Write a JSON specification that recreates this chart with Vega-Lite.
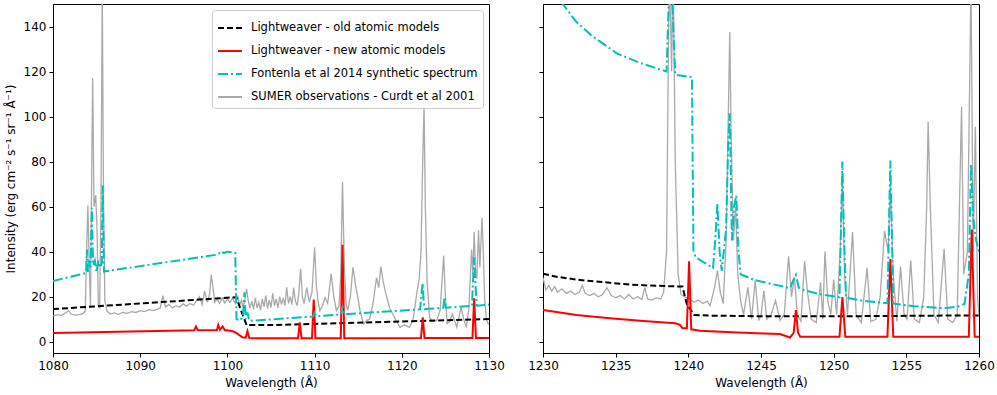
{
"$schema": "https://vega.github.io/schema/vega-lite/v6.json",
"padding": {"left": 3, "top": 3, "right": 5, "bottom": 2},
"background": "white",
"config": {
  "font": "DejaVu Sans",
  "view": {"stroke": "black", "strokeWidth": 1},
  "axis": {"domainColor": "black", "tickColor": "black", "labelColor": "black", "titleColor": "black", "labelFont": "DejaVu Sans", "titleFont": "DejaVu Sans", "labelFontSize": 12, "titleFontSize": 12, "titleFontWeight": "normal", "grid": false, "tickSize": 4, "labelPadding": 3, "titlePadding": 6, "labelFlush": false, "labelOverlap": false},
  "legend": {"labelFont": "DejaVu Sans", "labelFontSize": 11.5, "labelColor": "black"}
},
"spacing": 22,
"resolve": {"scale": {"color": "independent", "strokeDash": "independent"}},
"datasets": {
"L": [
{"s":"a","x":1080,"y":14.5},{"s":"a","x":1090,"y":17.0},{"s":"a","x":1101.0,"y":19.8},{"s":"a","x":1102.2,"y":7.4},{"s":"a","x":1105,"y":7.4},{"s":"a","x":1130,"y":10.1},
{"s":"b","x":1080,"y":3.9},{"s":"b","x":1096.2,"y":5.1},{"s":"b","x":1096.4,"y":6.7},{"s":"b","x":1096.6,"y":5.1},{"s":"b","x":1098.8,"y":5.2},{"s":"b","x":1098.95,"y":7.4},{"s":"b","x":1099.15,"y":5.3},{"s":"b","x":1099.45,"y":6.8},{"s":"b","x":1099.7,"y":5.2},{"s":"b","x":1100.5,"y":4.8},{"s":"b","x":1101.0,"y":4.0},{"s":"b","x":1101.7,"y":2.0},{"s":"b","x":1102.1,"y":1.8},{"s":"b","x":1102.3,"y":4.7},{"s":"b","x":1102.5,"y":1.7},{"s":"b","x":1103,"y":1.5},{"s":"b","x":1108.1,"y":1.6},{"s":"b","x":1108.3,"y":8.6},{"s":"b","x":1108.5,"y":1.6},{"s":"b","x":1109.7,"y":1.6},{"s":"b","x":1109.9,"y":18.7},{"s":"b","x":1110.1,"y":1.6},{"s":"b","x":1113.0,"y":1.6},{"s":"b","x":1113.2,"y":43.1},{"s":"b","x":1113.4,"y":1.6},{"s":"b","x":1122.2,"y":1.7},{"s":"b","x":1122.4,"y":10.8},{"s":"b","x":1122.6,"y":1.7},{"s":"b","x":1128.1,"y":1.7},{"s":"b","x":1128.3,"y":19.3},{"s":"b","x":1128.5,"y":1.7},{"s":"b","x":1130,"y":1.7},
{"s":"c","x":1080,"y":27.0},{"s":"c","x":1083.8,"y":30.5},{"s":"c","x":1083.9,"y":41},{"s":"c","x":1084.0,"y":31},{"s":"c","x":1084.1,"y":36},{"s":"c","x":1084.3,"y":33},{"s":"c","x":1084.45,"y":59.5},{"s":"c","x":1084.6,"y":34},{"s":"c","x":1084.8,"y":36},{"s":"c","x":1085.0,"y":31},{"s":"c","x":1085.2,"y":36},{"s":"c","x":1085.4,"y":33},{"s":"c","x":1085.6,"y":35},{"s":"c","x":1085.7,"y":69.5},{"s":"c","x":1085.85,"y":31.2},{"s":"c","x":1098.7,"y":38.6},{"s":"c","x":1099.0,"y":39.0},{"s":"c","x":1099.3,"y":40.2},{"s":"c","x":1099.6,"y":39.4},{"s":"c","x":1100.0,"y":40.0},{"s":"c","x":1100.9,"y":39.5},{"s":"c","x":1101.05,"y":10},{"s":"c","x":1101.5,"y":9.5},{"s":"c","x":1101.8,"y":12},{"s":"c","x":1101.95,"y":22},{"s":"c","x":1102.1,"y":10},{"s":"c","x":1102.3,"y":13},{"s":"c","x":1102.5,"y":9.3},{"s":"c","x":1103,"y":9.4},{"s":"c","x":1109.8,"y":11.2},{"s":"c","x":1110.0,"y":12.8},{"s":"c","x":1110.2,"y":11.3},{"s":"c","x":1113.0,"y":12.1},{"s":"c","x":1113.2,"y":15.8},{"s":"c","x":1113.4,"y":12.2},{"s":"c","x":1122.1,"y":14.4},{"s":"c","x":1122.3,"y":23},{"s":"c","x":1122.4,"y":26},{"s":"c","x":1122.5,"y":18},{"s":"c","x":1122.65,"y":14.5},{"s":"c","x":1124.75,"y":15.1},{"s":"c","x":1124.9,"y":19.8},{"s":"c","x":1125.05,"y":15.1},{"s":"c","x":1128.05,"y":15.9},{"s":"c","x":1128.2,"y":30},{"s":"c","x":1128.3,"y":37.5},{"s":"c","x":1128.45,"y":25},{"s":"c","x":1128.6,"y":16.0},{"s":"c","x":1130,"y":16.5},
{"s":"d","x":1080.0,"y":11.5},{"s":"d","x":1080.5,"y":12.0},{"s":"d","x":1081.0,"y":11.7},{"s":"d","x":1081.5,"y":13.0},{"s":"d","x":1081.8,"y":13.8},{"s":"d","x":1082.1,"y":12.2},{"s":"d","x":1082.6,"y":11.8},{"s":"d","x":1083.0,"y":12.0},{"s":"d","x":1083.4,"y":12.4},{"s":"d","x":1083.7,"y":13.5},{"s":"d","x":1083.85,"y":40},{"s":"d","x":1084.0,"y":60.5},{"s":"d","x":1084.15,"y":35},{"s":"d","x":1084.3,"y":15.5},{"s":"d","x":1084.45,"y":80},{"s":"d","x":1084.55,"y":117},{"s":"d","x":1084.7,"y":60},{"s":"d","x":1084.9,"y":65},{"s":"d","x":1085.05,"y":50},{"s":"d","x":1085.2,"y":16},{"s":"d","x":1085.35,"y":15.3},{"s":"d","x":1085.5,"y":60},{"s":"d","x":1085.65,"y":155},{"s":"d","x":1085.8,"y":60},{"s":"d","x":1085.95,"y":18},{"s":"d","x":1086.2,"y":13.5},{"s":"d","x":1086.6,"y":12.3},{"s":"d","x":1087.0,"y":12.8},{"s":"d","x":1087.5,"y":12.2},{"s":"d","x":1088.0,"y":13.0},{"s":"d","x":1088.5,"y":12.6},{"s":"d","x":1089.0,"y":13.4},{"s":"d","x":1089.5,"y":13.0},{"s":"d","x":1090.0,"y":13.8},{"s":"d","x":1090.5,"y":13.4},{"s":"d","x":1091.0,"y":14.2},{"s":"d","x":1091.5,"y":13.8},{"s":"d","x":1092.0,"y":14.5},{"s":"d","x":1092.3,"y":15.0},{"s":"d","x":1092.6,"y":20.5},{"s":"d","x":1092.9,"y":15.5},{"s":"d","x":1093.3,"y":16.5},{"s":"d","x":1093.7,"y":15.0},{"s":"d","x":1094.1,"y":16.0},{"s":"d","x":1094.5,"y":15.3},{"s":"d","x":1094.9,"y":16.8},{"s":"d","x":1095.3,"y":15.8},{"s":"d","x":1095.7,"y":17.0},{"s":"d","x":1096.1,"y":16.2},{"s":"d","x":1096.5,"y":18.5},{"s":"d","x":1096.8,"y":20.0},{"s":"d","x":1097.1,"y":16.5},{"s":"d","x":1097.4,"y":22.5},{"s":"d","x":1097.7,"y":17.5},{"s":"d","x":1097.95,"y":21},{"s":"d","x":1098.15,"y":29.7},{"s":"d","x":1098.35,"y":24},{"s":"d","x":1098.55,"y":17.5},{"s":"d","x":1098.8,"y":19.0},{"s":"d","x":1099.1,"y":17.0},{"s":"d","x":1099.4,"y":19.5},{"s":"d","x":1099.7,"y":17.2},{"s":"d","x":1100.0,"y":19.0},{"s":"d","x":1100.3,"y":17.5},{"s":"d","x":1100.6,"y":19.5},{"s":"d","x":1100.9,"y":17.0},{"s":"d","x":1101.2,"y":20.5},{"s":"d","x":1101.4,"y":16.0},{"s":"d","x":1101.6,"y":18.5},{"s":"d","x":1101.8,"y":15.5},{"s":"d","x":1102.0,"y":19},{"s":"d","x":1102.2,"y":23.5},{"s":"d","x":1102.4,"y":18},{"s":"d","x":1102.6,"y":15.0},{"s":"d","x":1102.8,"y":18.0},{"s":"d","x":1103.0,"y":14.5},{"s":"d","x":1103.2,"y":19.5},{"s":"d","x":1103.4,"y":15.0},{"s":"d","x":1103.6,"y":17.5},{"s":"d","x":1103.8,"y":14.0},{"s":"d","x":1104.0,"y":19.0},{"s":"d","x":1104.2,"y":15.5},{"s":"d","x":1104.4,"y":20.5},{"s":"d","x":1104.6,"y":14.8},{"s":"d","x":1104.8,"y":18.5},{"s":"d","x":1105.0,"y":15.2},{"s":"d","x":1105.2,"y":21.5},{"s":"d","x":1105.4,"y":16.0},{"s":"d","x":1105.6,"y":19.0},{"s":"d","x":1105.8,"y":15.0},{"s":"d","x":1106.0,"y":20.0},{"s":"d","x":1106.2,"y":16.5},{"s":"d","x":1106.4,"y":19.5},{"s":"d","x":1106.6,"y":16.0},{"s":"d","x":1106.8,"y":24.2},{"s":"d","x":1107.0,"y":17.0},{"s":"d","x":1107.2,"y":20.0},{"s":"d","x":1107.4,"y":16.5},{"s":"d","x":1107.6,"y":24.0},{"s":"d","x":1107.8,"y":18.0},{"s":"d","x":1108.0,"y":16.0},{"s":"d","x":1108.2,"y":22},{"s":"d","x":1108.4,"y":32.4},{"s":"d","x":1108.6,"y":20},{"s":"d","x":1108.8,"y":17.0},{"s":"d","x":1109.1,"y":24.0},{"s":"d","x":1109.4,"y":17.5},{"s":"d","x":1109.7,"y":22},{"s":"d","x":1110.0,"y":42},{"s":"d","x":1110.2,"y":25},{"s":"d","x":1110.4,"y":18},{"s":"d","x":1110.6,"y":13.8},{"s":"d","x":1110.9,"y":16.0},{"s":"d","x":1111.2,"y":19.5},{"s":"d","x":1111.5,"y":17},{"s":"d","x":1111.9,"y":30.2},{"s":"d","x":1112.2,"y":20},{"s":"d","x":1112.5,"y":13.8},{"s":"d","x":1112.8,"y":16},{"s":"d","x":1113.0,"y":30},{"s":"d","x":1113.2,"y":71},{"s":"d","x":1113.4,"y":35},{"s":"d","x":1113.6,"y":17},{"s":"d","x":1113.8,"y":14},{"s":"d","x":1114.1,"y":20},{"s":"d","x":1114.4,"y":33.1},{"s":"d","x":1114.7,"y":25},{"s":"d","x":1114.9,"y":21},{"s":"d","x":1115.2,"y":14},{"s":"d","x":1115.6,"y":7.9},{"s":"d","x":1116.0,"y":9.5},{"s":"d","x":1116.3,"y":10},{"s":"d","x":1116.7,"y":17},{"s":"d","x":1117.1,"y":28.5},{"s":"d","x":1117.35,"y":24},{"s":"d","x":1117.6,"y":33.4},{"s":"d","x":1117.85,"y":27},{"s":"d","x":1118.1,"y":22.5},{"s":"d","x":1118.6,"y":15},{"s":"d","x":1119.0,"y":12},{"s":"d","x":1119.4,"y":9},{"s":"d","x":1119.8,"y":6.4},{"s":"d","x":1120.3,"y":7.5},{"s":"d","x":1120.9,"y":6.4},{"s":"d","x":1121.3,"y":10},{"s":"d","x":1121.7,"y":21},{"s":"d","x":1122.0,"y":28},{"s":"d","x":1122.2,"y":40},{"s":"d","x":1122.4,"y":80},{"s":"d","x":1122.55,"y":105},{"s":"d","x":1122.7,"y":60},{"s":"d","x":1122.9,"y":27},{"s":"d","x":1123.2,"y":10.5},{"s":"d","x":1123.6,"y":9},{"s":"d","x":1124.0,"y":9.4},{"s":"d","x":1124.4,"y":14},{"s":"d","x":1124.8,"y":38.3},{"s":"d","x":1125.0,"y":20},{"s":"d","x":1125.2,"y":8},{"s":"d","x":1125.5,"y":9},{"s":"d","x":1125.8,"y":12.3},{"s":"d","x":1126.3,"y":6.5},{"s":"d","x":1126.8,"y":15.3},{"s":"d","x":1127.1,"y":10},{"s":"d","x":1127.4,"y":6.4},{"s":"d","x":1127.7,"y":15},{"s":"d","x":1128.0,"y":41},{"s":"d","x":1128.15,"y":30},{"s":"d","x":1128.3,"y":48.7},{"s":"d","x":1128.45,"y":32},{"s":"d","x":1128.6,"y":28},{"s":"d","x":1128.8,"y":49.5},{"s":"d","x":1128.95,"y":33},{"s":"d","x":1129.2,"y":55},{"s":"d","x":1129.35,"y":40},{"s":"d","x":1129.5,"y":19},{"s":"d","x":1129.7,"y":10},{"s":"d","x":1129.9,"y":8},{"s":"d","x":1130.0,"y":8}
],
"R": [
{"s":"a","x":1230,"y":30.2},{"s":"a","x":1231,"y":28.8},{"s":"a","x":1232.3,"y":27.6},{"s":"a","x":1233.5,"y":26.8},{"s":"a","x":1234.6,"y":26.2},{"s":"a","x":1236,"y":25.4},{"s":"a","x":1236.9,"y":25.1},{"s":"a","x":1238.5,"y":24.7},{"s":"a","x":1239.6,"y":24.5},{"s":"a","x":1239.9,"y":16.6},{"s":"a","x":1240.4,"y":11.9},{"s":"a","x":1241.5,"y":11.6},{"s":"a","x":1245.2,"y":11.3},{"s":"a","x":1250,"y":11.3},{"s":"a","x":1255,"y":11.5},{"s":"a","x":1260,"y":11.7},
{"s":"b","x":1230,"y":14.1},{"s":"b","x":1232.3,"y":11.9},{"s":"b","x":1234.6,"y":10.4},{"s":"b","x":1236.9,"y":9.2},{"s":"b","x":1239.1,"y":8.2},{"s":"b","x":1239.4,"y":7.6},{"s":"b","x":1239.6,"y":6.0},{"s":"b","x":1239.9,"y":6.0},{"s":"b","x":1240.05,"y":35.7},{"s":"b","x":1240.2,"y":5.5},{"s":"b","x":1240.8,"y":4.9},{"s":"b","x":1243,"y":4.2},{"s":"b","x":1245.2,"y":3.7},{"s":"b","x":1246.3,"y":3.4},{"s":"b","x":1247.0,"y":1.9},{"s":"b","x":1247.25,"y":4},{"s":"b","x":1247.4,"y":14.1},{"s":"b","x":1247.55,"y":4},{"s":"b","x":1247.7,"y":2.2},{"s":"b","x":1250.4,"y":2.2},{"s":"b","x":1250.6,"y":19.8},{"s":"b","x":1250.8,"y":2.2},{"s":"b","x":1253.7,"y":2.2},{"s":"b","x":1253.9,"y":36.7},{"s":"b","x":1254.1,"y":2.2},{"s":"b","x":1259.3,"y":2.2},{"s":"b","x":1259.5,"y":49.8},{"s":"b","x":1259.7,"y":2.2},{"s":"b","x":1260,"y":2.2},
{"s":"c","x":1230,"y":165},{"s":"c","x":1231.3,"y":150.5},{"s":"c","x":1232.3,"y":142},{"s":"c","x":1233.4,"y":135.7},{"s":"c","x":1235.1,"y":128},{"s":"c","x":1236.7,"y":123.8},{"s":"c","x":1238.5,"y":120},{"s":"c","x":1238.65,"y":150},{"s":"c","x":1238.75,"y":190},{"s":"c","x":1238.9,"y":150},{"s":"c","x":1239.1,"y":118.6},{"s":"c","x":1240.25,"y":117.5},{"s":"c","x":1240.35,"y":40.6},{"s":"c","x":1240.5,"y":37.6},{"s":"c","x":1241.0,"y":35.5},{"s":"c","x":1241.7,"y":32.8},{"s":"c","x":1241.85,"y":45},{"s":"c","x":1242.0,"y":61.4},{"s":"c","x":1242.15,"y":40},{"s":"c","x":1242.3,"y":31.5},{"s":"c","x":1242.6,"y":50},{"s":"c","x":1242.75,"y":90},{"s":"c","x":1242.85,"y":101.5},{"s":"c","x":1243.0,"y":45},{"s":"c","x":1243.15,"y":60},{"s":"c","x":1243.3,"y":65},{"s":"c","x":1243.45,"y":40},{"s":"c","x":1243.6,"y":30},{"s":"c","x":1244.5,"y":27.5},{"s":"c","x":1245.7,"y":25.7},{"s":"c","x":1247.0,"y":23.8},{"s":"c","x":1247.2,"y":27},{"s":"c","x":1247.4,"y":29.7},{"s":"c","x":1247.6,"y":24},{"s":"c","x":1248,"y":22.8},{"s":"c","x":1249,"y":21.2},{"s":"c","x":1250.4,"y":19.8},{"s":"c","x":1250.5,"y":50},{"s":"c","x":1250.6,"y":80},{"s":"c","x":1250.7,"y":50},{"s":"c","x":1250.85,"y":19.5},{"s":"c","x":1252,"y":18.2},{"s":"c","x":1253.7,"y":17.1},{"s":"c","x":1253.8,"y":50},{"s":"c","x":1253.9,"y":80.5},{"s":"c","x":1254.0,"y":50},{"s":"c","x":1254.1,"y":16.9},{"s":"c","x":1255.5,"y":15.8},{"s":"c","x":1257.6,"y":14.9},{"s":"c","x":1258.5,"y":15.5},{"s":"c","x":1259.0,"y":16.8},{"s":"c","x":1259.3,"y":30},{"s":"c","x":1259.45,"y":79},{"s":"c","x":1259.6,"y":55},{"s":"c","x":1259.8,"y":45},{"s":"c","x":1260,"y":40},
{"s":"d","x":1230.0,"y":28.5},{"s":"d","x":1230.2,"y":23.0},{"s":"d","x":1230.4,"y":25.0},{"s":"d","x":1230.6,"y":22.5},{"s":"d","x":1230.8,"y":24.5},{"s":"d","x":1231.0,"y":22.0},{"s":"d","x":1231.3,"y":23.5},{"s":"d","x":1231.6,"y":21.5},{"s":"d","x":1231.9,"y":22.5},{"s":"d","x":1232.2,"y":21.0},{"s":"d","x":1232.5,"y":22.0},{"s":"d","x":1232.7,"y":25.0},{"s":"d","x":1232.9,"y":21.5},{"s":"d","x":1233.2,"y":20.5},{"s":"d","x":1233.5,"y":21.5},{"s":"d","x":1233.8,"y":20.0},{"s":"d","x":1234.1,"y":21.0},{"s":"d","x":1234.4,"y":24.0},{"s":"d","x":1234.7,"y":20.5},{"s":"d","x":1235.0,"y":19.5},{"s":"d","x":1235.3,"y":20.5},{"s":"d","x":1235.6,"y":19.0},{"s":"d","x":1235.9,"y":21.0},{"s":"d","x":1236.2,"y":19.0},{"s":"d","x":1236.5,"y":20.0},{"s":"d","x":1236.8,"y":18.8},{"s":"d","x":1237.0,"y":24.0},{"s":"d","x":1237.2,"y":19.0},{"s":"d","x":1237.5,"y":18.5},{"s":"d","x":1237.8,"y":19.5},{"s":"d","x":1238.1,"y":19.0},{"s":"d","x":1238.3,"y":22},{"s":"d","x":1238.5,"y":40},{"s":"d","x":1238.6,"y":110},{"s":"d","x":1238.7,"y":170},{"s":"d","x":1238.85,"y":120},{"s":"d","x":1238.95,"y":170},{"s":"d","x":1239.1,"y":80},{"s":"d","x":1239.3,"y":30},{"s":"d","x":1239.5,"y":21},{"s":"d","x":1239.8,"y":19.8},{"s":"d","x":1240.1,"y":19},{"s":"d","x":1240.4,"y":17.5},{"s":"d","x":1240.7,"y":18.5},{"s":"d","x":1241.0,"y":17.0},{"s":"d","x":1241.3,"y":18.0},{"s":"d","x":1241.5,"y":16.0},{"s":"d","x":1241.8,"y":24},{"s":"d","x":1242.0,"y":31.6},{"s":"d","x":1242.2,"y":22},{"s":"d","x":1242.4,"y":17},{"s":"d","x":1242.6,"y":45},{"s":"d","x":1242.75,"y":100},{"s":"d","x":1242.85,"y":137.6},{"s":"d","x":1242.95,"y":90},{"s":"d","x":1243.1,"y":45},{"s":"d","x":1243.25,"y":60},{"s":"d","x":1243.4,"y":30},{"s":"d","x":1243.6,"y":18},{"s":"d","x":1243.8,"y":12},{"s":"d","x":1244.1,"y":24.2},{"s":"d","x":1244.35,"y":10},{"s":"d","x":1244.6,"y":27.2},{"s":"d","x":1244.85,"y":9.4},{"s":"d","x":1245.0,"y":12},{"s":"d","x":1245.2,"y":22.7},{"s":"d","x":1245.4,"y":10},{"s":"d","x":1245.7,"y":12},{"s":"d","x":1246.0,"y":18.3},{"s":"d","x":1246.3,"y":9.5},{"s":"d","x":1246.6,"y":12},{"s":"d","x":1246.9,"y":37.9},{"s":"d","x":1247.1,"y":20},{"s":"d","x":1247.3,"y":28.7},{"s":"d","x":1247.5,"y":12},{"s":"d","x":1247.75,"y":9},{"s":"d","x":1248.0,"y":35.8},{"s":"d","x":1248.2,"y":22},{"s":"d","x":1248.45,"y":10},{"s":"d","x":1248.8,"y":8.5},{"s":"d","x":1249.1,"y":26.4},{"s":"d","x":1249.25,"y":10},{"s":"d","x":1249.4,"y":40.1},{"s":"d","x":1249.6,"y":18},{"s":"d","x":1249.8,"y":12},{"s":"d","x":1250.0,"y":27.6},{"s":"d","x":1250.2,"y":12},{"s":"d","x":1250.45,"y":40},{"s":"d","x":1250.6,"y":75},{"s":"d","x":1250.75,"y":30},{"s":"d","x":1250.95,"y":12},{"s":"d","x":1251.3,"y":48.7},{"s":"d","x":1251.55,"y":12},{"s":"d","x":1251.9,"y":8.5},{"s":"d","x":1252.3,"y":32.8},{"s":"d","x":1252.55,"y":9},{"s":"d","x":1252.9,"y":10},{"s":"d","x":1253.2,"y":20},{"s":"d","x":1253.5,"y":49.2},{"s":"d","x":1253.75,"y":40},{"s":"d","x":1253.9,"y":70},{"s":"d","x":1254.1,"y":30},{"s":"d","x":1254.35,"y":9},{"s":"d","x":1254.6,"y":33.4},{"s":"d","x":1254.85,"y":12},{"s":"d","x":1255.05,"y":10},{"s":"d","x":1255.3,"y":36.1},{"s":"d","x":1255.55,"y":10},{"s":"d","x":1255.9,"y":8.5},{"s":"d","x":1256.2,"y":20},{"s":"d","x":1256.4,"y":60},{"s":"d","x":1256.5,"y":97.8},{"s":"d","x":1256.65,"y":60},{"s":"d","x":1256.9,"y":12},{"s":"d","x":1257.2,"y":8.5},{"s":"d","x":1257.6,"y":41.3},{"s":"d","x":1257.85,"y":10},{"s":"d","x":1258.2,"y":8.5},{"s":"d","x":1258.5,"y":12},{"s":"d","x":1258.8,"y":104.5},{"s":"d","x":1258.95,"y":30},{"s":"d","x":1259.2,"y":40},{"s":"d","x":1259.45,"y":160},{"s":"d","x":1259.6,"y":40},{"s":"d","x":1259.75,"y":95.5},{"s":"d","x":1259.9,"y":20},{"s":"d","x":1260.0,"y":12}
]
},
"hconcat": [
{
  "width": 436, "height": 349,
  "data": {"name": "L"},
  "encoding": {
    "x": {"field": "x", "type": "quantitative", "scale": {"domain": [1080, 1130], "nice": false, "zero": false}, "axis": {"values": [1080,1090,1100,1110,1120,1130], "format": "d", "title": "Wavelength (Å)"}},
    "y": {"field": "y", "type": "quantitative", "scale": {"domain": [-5, 150], "nice": false, "zero": false}, "axis": {"values": [0,20,40,60,80,100,120,140], "format": "d", "title": "Intensity (erg cm⁻² s⁻¹ sr⁻¹ Å⁻¹)"}},
    "color": {"field": "s", "type": "nominal", "scale": {"domain": ["a","b","c","d"], "range": ["#000000","#ff0000","#00bfbf","#a9a9a9"]},
      "legend": {"title": null, "orient": "top-right", "offset": 6, "padding": 5, "fillColor": "white", "strokeColor": "#cccccc", "cornerRadius": 3, "symbolType": "stroke", "symbolSize": 576, "symbolStrokeWidth": 2, "labelOffset": 8, "rowPadding": 4, "labelLimit": 400,
        "labelExpr": "datum.label == 'a' ? 'Lightweaver - old atomic models' : datum.label == 'b' ? 'Lightweaver - new atomic models' : datum.label == 'c' ? 'Fontenla et al 2014 synthetic spectrum' : 'SUMER observations - Curdt et al 2001'"}},
    "strokeDash": {"field": "s", "type": "nominal", "scale": {"domain": ["a","b","c","d"], "range": [[6,3],[],[10,3,2,3],[]]}, "legend": null}
  },
  "layer": [
    {"transform": [{"filter": "datum.s == 'd'"}], "mark": {"type": "line", "clip": true, "strokeWidth": 1.3}},
    {"transform": [{"filter": "datum.s == 'a'"}], "mark": {"type": "line", "clip": true, "strokeWidth": 2}},
    {"transform": [{"filter": "datum.s == 'b'"}], "mark": {"type": "line", "clip": true, "strokeWidth": 2}},
    {"transform": [{"filter": "datum.s == 'c'"}], "mark": {"type": "line", "clip": true, "strokeWidth": 2}}
  ]
},
{
  "width": 436, "height": 349,
  "data": {"name": "R"},
  "encoding": {
    "x": {"field": "x", "type": "quantitative", "scale": {"domain": [1230, 1260], "nice": false, "zero": false}, "axis": {"values": [1230,1235,1240,1245,1250,1255,1260], "format": "d", "title": "Wavelength (Å)"}},
    "y": {"field": "y", "type": "quantitative", "scale": {"domain": [-5, 150], "nice": false, "zero": false}, "axis": {"values": [0,20,40,60,80,100,120,140], "labels": false, "title": null}},
    "color": {"field": "s", "type": "nominal", "scale": {"domain": ["a","b","c","d"], "range": ["#000000","#ff0000","#00bfbf","#a9a9a9"]}, "legend": null},
    "strokeDash": {"field": "s", "type": "nominal", "scale": {"domain": ["a","b","c","d"], "range": [[6,3],[],[10,3,2,3],[]]}, "legend": null}
  },
  "layer": [
    {"transform": [{"filter": "datum.s == 'd'"}], "mark": {"type": "line", "clip": true, "strokeWidth": 1.3}},
    {"transform": [{"filter": "datum.s == 'a'"}], "mark": {"type": "line", "clip": true, "strokeWidth": 2}},
    {"transform": [{"filter": "datum.s == 'b'"}], "mark": {"type": "line", "clip": true, "strokeWidth": 2}},
    {"transform": [{"filter": "datum.s == 'c'"}], "mark": {"type": "line", "clip": true, "strokeWidth": 2}}
  ]
}
]
}
